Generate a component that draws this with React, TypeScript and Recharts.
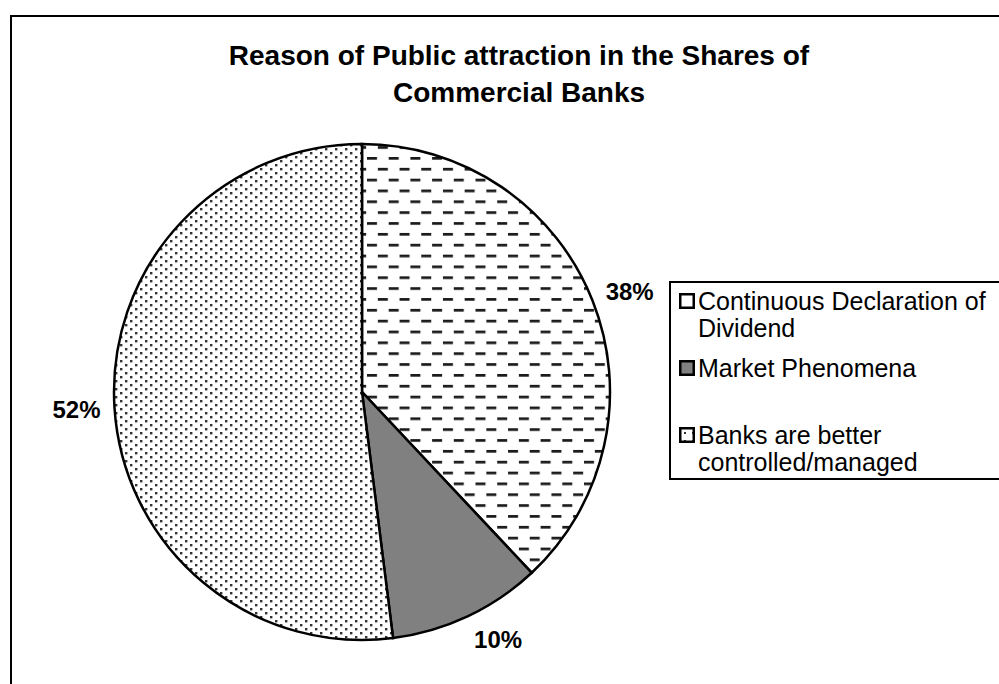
import { PieChart, Pie, Cell, Legend } from 'recharts';

const categories = [
  'Continuous Declaration of Dividend',
  'Market Phenomena',
  'Banks are better controlled/managed',
];
const shares = [38, 10, 52];
const titleLines = ['Reason of Public attraction in the Shares of', 'Commercial Banks'];

const FILLS = ['url(#dashFill)', '#808080', 'url(#dotFill)'];
const LEGEND_FILLS = ['#ffffff', '#808080', 'url(#dotFillSmall)'];
const FONT = '"Liberation Sans", Arial, sans-serif';

const data = categories.map((name, i) => ({ name, value: shares[i] }));

const RADIAN = Math.PI / 180;

// outside-end label: anchor beyond the rim, box pushed out horizontally by half its width
function renderLabel(props: any) {
  const { cx, cy, midAngle, outerRadius, value } = props;
  const cos = Math.cos(-midAngle * RADIAN);
  const sin = Math.sin(-midAngle * RADIAN);
  const r = outerRadius + 13;
  const x = cx + r * cos + 25 * Math.sign(cos);
  const y = cy + r * sin + 12 * sin;
  return (
    <text
      x={x}
      y={y}
      textAnchor="middle"
      dominantBaseline="central"
      fill="#000"
      fontSize={24}
      fontWeight="bold"
      fontFamily={FONT}
    >
      {`${value}%`}
    </text>
  );
}

function LegendBox() {
  return (
    <div
      style={{
        boxSizing: 'border-box',
        width: 340,
        height: 199,
        border: '2px solid #000',
        background: '#fff',
        padding: '5px 0 0 8px',
        fontFamily: FONT,
        fontSize: 25,
        lineHeight: '27px',
        color: '#000',
      }}
    >
      {categories.map((name, i) => (
        <div key={name} style={{ display: 'flex', alignItems: 'flex-start', height: 67 }}>
          <svg width={17} height={17} style={{ marginTop: 5, flex: 'none' }}>
            <rect x={1.25} y={1.25} width={13.5} height={13.5} fill={LEGEND_FILLS[i]} stroke="#000" strokeWidth={2.5} />
          </svg>
          <div style={{ width: 300, marginLeft: 2 }}>{name}</div>
        </div>
      ))}
    </div>
  );
}

export default function App() {
  return (
    <div
      style={{
        position: 'absolute',
        left: 0,
        top: 0,
        width: 999,
        height: 684,
        overflow: 'hidden',
        background: '#fff',
        fontFamily: FONT,
      }}
    >
      <svg width={0} height={0} style={{ position: 'absolute' }}>
        <defs>
          <pattern id="dashFill" patternUnits="userSpaceOnUse" x={367} y={157} width={21.7} height={21.7}>
            <rect x={0} y={0} width={21.7} height={21.7} fill="#fff" />
            <rect x={0} y={0} width={10} height={2.7} fill="#1a1a1a" />
            <rect x={10.85} y={10.85} width={10} height={2.7} fill="#1a1a1a" />
          </pattern>
          <pattern id="dotFill" patternUnits="userSpaceOnUse" width={10} height={8}>
            <rect x={0} y={0} width={10} height={8} fill="#fff" />
            <rect x={0} y={0} width={2.4} height={2.4} fill="#333" />
            <rect x={5} y={4} width={2.4} height={2.4} fill="#333" />
          </pattern>
          <pattern id="dotFillSmall" patternUnits="userSpaceOnUse" width={8} height={8}>
            <rect x={0} y={0} width={8} height={8} fill="#fff" />
            <rect x={5} y={5} width={2} height={2} fill="#333" />
          </pattern>
        </defs>
      </svg>

      <div
        style={{
          position: 'absolute',
          left: 10,
          top: 15,
          width: 1020,
          height: 720,
          border: '2px solid #000',
        }}
      />

      <div
        style={{
          position: 'absolute',
          left: 30,
          top: 37,
          width: 978,
          textAlign: 'center',
          fontSize: 28,
          fontWeight: 'bold',
          lineHeight: '37px',
          color: '#000',
        }}
      >
        {titleLines.map((t) => (
          <div key={t}>{t}</div>
        ))}
      </div>

      <div style={{ position: 'absolute', left: 0, top: 0 }}>
        <PieChart width={999} height={684} margin={{ top: 0, right: 0, bottom: 0, left: 0 }}>
          <Pie
            data={data}
            dataKey="value"
            nameKey="name"
            cx={362}
            cy={392}
            outerRadius={248}
            startAngle={90}
            endAngle={-270}
            stroke="#000"
            strokeWidth={2.5}
            label={renderLabel}
            labelLine={false}
            isAnimationActive={false}
          >
            {data.map((entry, i) => (
              <Cell key={entry.name} fill={FILLS[i]} />
            ))}
          </Pie>
          <Legend
            layout="vertical"
            align="right"
            verticalAlign="top"
            content={() => <LegendBox />}
            wrapperStyle={{ position: 'absolute', left: 669, top: 281, width: 340, right: 'auto', bottom: 'auto' }}
          />
        </PieChart>
      </div>
    </div>
  );
}
